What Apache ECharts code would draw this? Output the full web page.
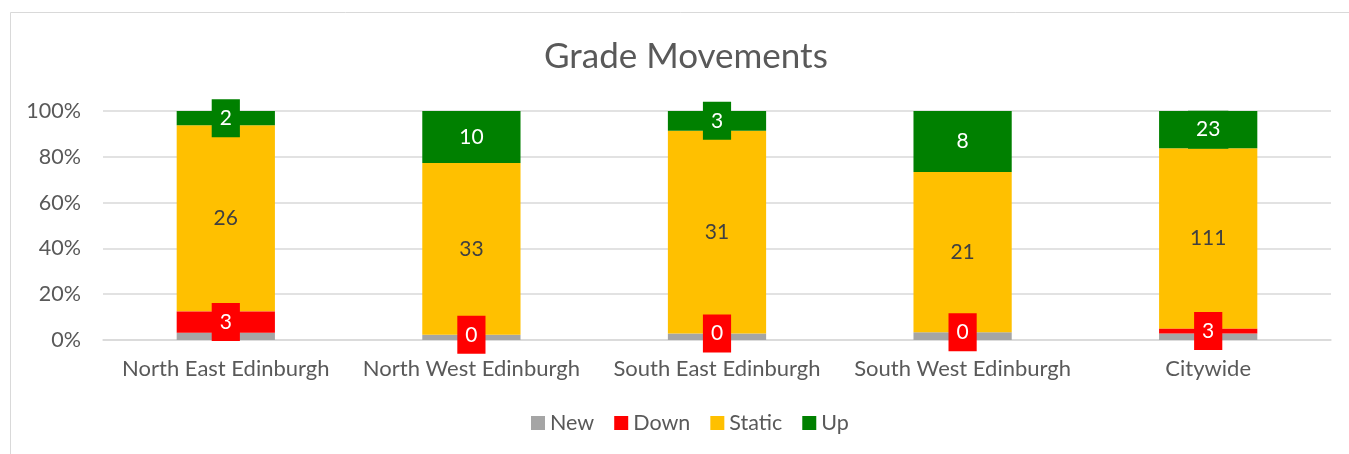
<!DOCTYPE html>
<html>
<head>
<meta charset="utf-8">
<script src="https://cdn.jsdelivr.net/npm/echarts@6/dist/echarts.min.js"></script>
<style>
html,body{margin:0;padding:0;background:#fff;}
#chart{width:1349px;height:454px;}
</style>
</head>
<body>
<div id="chart"></div>
<script>
const categories = ['North East Edinburgh', 'North West Edinburgh', 'South East Edinburgh', 'South West Edinburgh', 'Citywide'];
const seriesNames = ['New', 'Down', 'Static', 'Up'];
const newVals = [1, 1, 1, 1, 4];
const downVals = [3, 0, 0, 0, 3];
const staticVals = [26, 33, 31, 21, 111];
const upVals = [2, 10, 3, 8, 23];
const yTicks = ['0%', '20%', '40%', '60%', '80%', '100%'];

const colors = { New: '#a5a5a5', Down: '#ff0000', Static: '#ffc000', Up: '#008000' };
const FONT = 'Lato, "Open Sans", sans-serif';

const raw = [newVals, downVals, staticVals, upVals];
const totals = categories.map((c, i) => raw.reduce((s, arr) => s + arr[i], 0));

function pctData(arr) {
  return arr.map((v, i) => ({ value: v / totals[i] * 100, count: v }));
}

function labelFor(name) {
  if (name === 'New') return { show: false };
  const base = {
    show: true,
    position: 'inside',
    fontFamily: FONT,
    fontSize: 21,
    lineHeight: 22,
    formatter: p => String(p.data.count)
  };
  if (name === 'Static') {
    return Object.assign(base, { color: '#404040' });
  }
  return Object.assign(base, {
    color: '#ffffff',
    backgroundColor: colors[name],
    padding: [8, 8, 8, 8]
  });
}

const series = seriesNames.map((name, k) => ({
  name: name,
  type: 'bar',
  stack: 'total',
  barWidth: '40%',
  data: pctData(raw[k]),
  itemStyle: { color: colors[name] },
  label: labelFor(name),
  labelLayout: { hideOverlap: false },
  z: name === 'Down' || name === 'Up' ? 3 : 2
}));

const chart = echarts.init(document.getElementById('chart'), null, { renderer: 'canvas' });
chart.setOption({
  animation: false,
  backgroundColor: '#ffffff',
  graphic: [{
    type: 'rect',
    shape: { x: 10.5, y: 12.5, width: 1400, height: 500 },
    style: { fill: 'none', stroke: '#d9d9d9', lineWidth: 1 },
    silent: true,
    z: -10
  }],
  title: {
    text: 'Grade Movements',
    left: 539,
    top: 34,
    textStyle: { fontFamily: FONT, fontSize: 35, fontWeight: 'normal', color: '#595959' }
  },
  legend: {
    data: seriesNames,
    bottom: 15,
    left: 526,
    itemWidth: 14,
    itemHeight: 14,
    itemGap: 20,
    icon: 'rect',
    textStyle: { fontFamily: FONT, fontSize: 21.5, color: '#595959' }
  },
  grid: { left: 103, right: 18, top: 111, bottom: 114, containLabel: false },
  xAxis: {
    type: 'category',
    data: categories,
    axisLine: { show: true, lineStyle: { color: '#d9d9d9', width: 1.5 } },
    axisTick: { show: false },
    axisLabel: { interval: 0, fontFamily: FONT, fontSize: 22, color: '#595959', margin: 18 }
  },
  yAxis: {
    type: 'value',
    min: 0,
    max: 100,
    interval: 20,
    axisLine: { show: false },
    axisTick: { show: false },
    splitLine: { lineStyle: { color: '#d9d9d9', width: 1.5 } },
    axisLabel: {
      fontFamily: FONT, fontSize: 21.5, color: '#595959', margin: 22,
      formatter: v => yTicks[Math.round(v / 20)]
    }
  },
  series: series
});
</script>
</body>
</html>
